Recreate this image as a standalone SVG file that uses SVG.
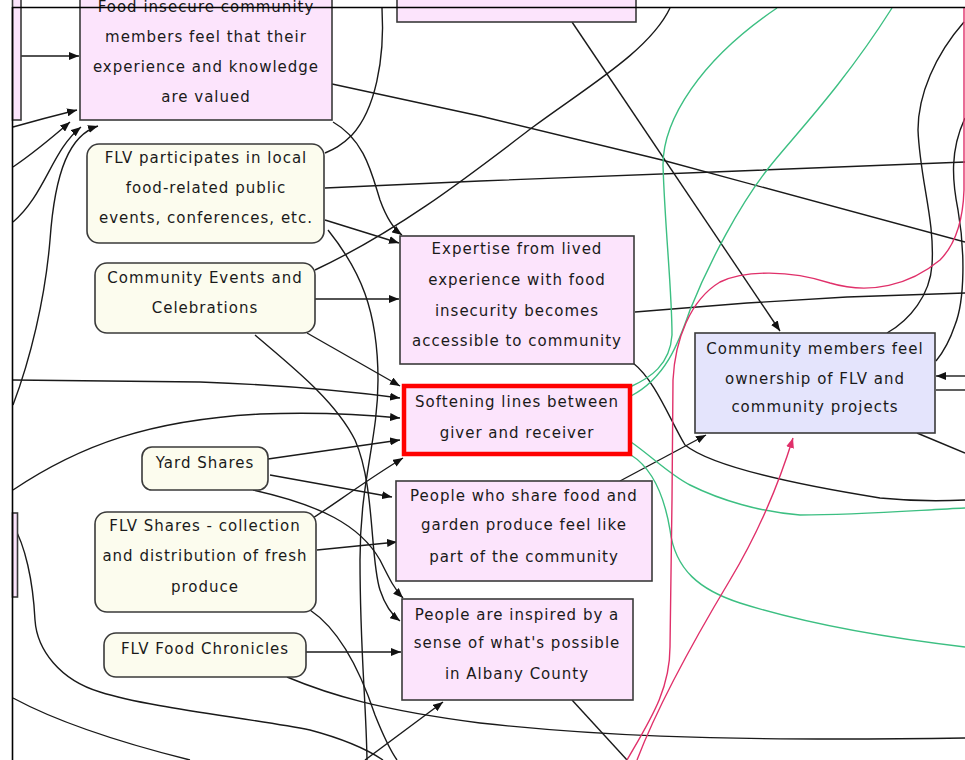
<svg xmlns="http://www.w3.org/2000/svg" width="965" height="760" viewBox="0 0 965 760">
<defs>
<marker id="ah" viewBox="0 0 10 8" refX="10" refY="4" markerWidth="10" markerHeight="8" markerUnits="userSpaceOnUse" orient="auto">
<path d="M0,0 L10,4 L0,8 z" fill="#111"/>
</marker>
<marker id="ahp" viewBox="0 0 10 8" refX="10" refY="4" markerWidth="10" markerHeight="8" markerUnits="userSpaceOnUse" orient="auto">
<path d="M0,0 L10,4 L0,8 z" fill="#e0306a"/>
</marker>
</defs>
<style>
.c{fill:none;stroke:#1a1a1a;stroke-width:1.4}
.a{marker-end:url(#ah)}
.g{fill:none;stroke:#3cbf82;stroke-width:1.4}
.p{fill:none;stroke:#e0306a;stroke-width:1.4}
.pk{fill:#fce4fc;stroke:#3a3a3a;stroke-width:1.6}
.cr{fill:#fcfcee;stroke:#3a3a3a;stroke-width:1.6}
.lv{fill:#e4e4fc;stroke:#3a3a3a;stroke-width:1.6}
.rd{fill:#fce4fc;stroke:#ff0000;stroke-width:4.5}
text{font-family:"DejaVu Sans",Verdana,sans-serif;font-size:15px;letter-spacing:1px;fill:#1a1a1a;text-anchor:middle}
</style>
<rect x="0" y="0" width="965" height="760" fill="#ffffff"/>
<g id="connectors">
<path class="c a" d="M21,56 L79,56"/>
<path class="c a" d="M13,127 Q45,118 77,110"/>
<path class="c a" d="M13,167 C35,152 55,135 70,122"/>
<path class="c a" d="M13,222 C45,195 52,150 81,127"/>
<path class="c a" d="M13,405 C30,360 45,300 50,240 C55,170 70,135 98,126"/>
<path class="c" d="M332,84 L480,116 L662,160 L965,242"/>
<path class="c a" d="M333,122 C365,140 372,175 380,200 C388,222 395,230 402,235"/>
<path class="c" d="M382,8 C385,60 375,110 352,135 C340,147 332,150 325,153"/>
<path class="c" d="M325,188 L480,181 L713,172 L965,162"/>
<path class="c a" d="M325,220 L399,243"/>
<path class="c" d="M328,230 C360,270 378,310 378,380 C378,440 360,480 360,560 C360,650 366,700 367,760"/>
<path class="c" d="M315,270 C400,230 470,175 533,127 C590,85 650,50 670,8"/>
<path class="c a" d="M315,299 L399,299"/>
<path class="c a" d="M307,333 L400,386"/>
<path class="c a" d="M255,335 C290,365 335,400 355,440 C375,485 370,560 380,590 C385,605 392,615 400,621"/>
<path class="c a" d="M13,380 L200,382 C280,385 340,390 400,398"/>
<path class="c a" d="M13,490 C80,445 150,420 260,414 C320,412 360,414 400,418"/>
<path class="c a" d="M268,459 L400,440"/>
<path class="c a" d="M313,518 C340,500 370,478 403,458"/>
<path class="c a" d="M270,475 L392,497"/>
<path class="c a" d="M317,550 L397,542"/>
<path class="c a" d="M253,490 C320,505 360,525 380,560 C390,580 395,590 403,598"/>
<path class="c" d="M310,610 C340,630 360,670 375,715 C383,735 390,750 397,760"/>
<path class="c a" d="M306,652 L401,652"/>
<path class="c" d="M287,677 C330,695 380,710 480,723 C580,734 700,742 965,738"/>
<path class="c" d="M13,525 C25,545 33,580 35,620 C37,650 60,680 100,692 C150,708 250,718 310,730 C340,738 365,748 383,760"/>
<path class="c" d="M13,698 C50,718 110,740 190,760"/>
<path class="c a" d="M365,760 L443,702"/>
<path class="c" d="M572,700 L627,760"/>
<path class="c a" d="M572,22 L780,331"/>
<path class="c" d="M633,363 C655,380 670,420 685,445 C710,465 780,482 880,498 C920,502 945,501 965,500"/>
<path class="c a" d="M620,481 L706,435"/>
<path class="c" d="M635,312 L747,303 L847,297 L965,293"/>
<path class="c" d="M917,433 L965,453"/>
<path class="c a" d="M965,376 L936,376"/>
<path class="c" d="M965,390 L936,390"/>
<path class="c" d="M964,22 C935,55 918,95 918,130 C920,180 935,220 932,265 C930,295 910,320 887,333"/>
<path class="c" d="M965,118 C950,150 952,180 958,210 C965,250 965,300 955,325 C950,340 945,350 936,361"/>
<path class="g" d="M777,8 C700,60 663,120 663,165 C665,230 672,290 672,335 C670,365 650,378 630,387"/>
<path class="g" d="M892,8 C840,90 790,140 767,170 C740,205 710,260 690,310 C678,345 665,378 631,396"/>
<path class="g" d="M631,442 C650,455 670,475 690,485 C720,500 760,512 800,515 C860,515 920,510 965,508"/>
<path class="g" d="M631,455 C655,470 665,500 670,530 C675,570 700,590 740,603 C800,622 880,637 965,647"/>
<path class="p" d="M627,760 C650,720 670,690 670,647 L672,500 L673,380 C675,340 690,300 720,282 C745,270 790,270 830,283 C870,295 910,285 940,260 C955,245 963,220 964,190 L964,8"/>
<path class="p" d="M637,760 C660,700 700,630 730,580 C760,530 780,480 793,438" marker-end="url(#ahp)"/>
</g>
<g id="node-left-top"><rect class="pk" x="12.5" y="-5" width="8.5" height="125"/></g>
<g id="node-left-bottom"><rect class="pk" x="12.5" y="513" width="5" height="84"/></g>
<g id="node-valued">
<rect class="pk" x="80" y="-10" width="252" height="130"/>
<text x="206" y="12">Food insecure community</text>
<text x="206" y="42">members feel that their</text>
<text x="206" y="72">experience and knowledge</text>
<text x="206" y="102">are valued</text>
</g>
<g id="node-top"><rect class="pk" x="397" y="-10" width="239" height="32"/></g>
<g id="node-flv-events">
<rect class="cr" x="87" y="144" width="237" height="99" rx="12"/>
<text x="206" y="163">FLV participates in local</text>
<text x="206" y="193">food-related public</text>
<text x="206" y="223">events, conferences, etc.</text>
</g>
<g id="node-community-events">
<rect class="cr" x="95" y="263" width="220" height="70" rx="12"/>
<text x="205" y="283">Community Events and</text>
<text x="205" y="313">Celebrations</text>
</g>
<g id="node-expertise">
<rect class="pk" x="400" y="236" width="234" height="128"/>
<text x="517" y="254">Expertise from lived</text>
<text x="517" y="285">experience with food</text>
<text x="517" y="316">insecurity becomes</text>
<text x="517" y="346">accessible to community</text>
</g>
<g id="node-softening">
<rect class="rd" x="404" y="386" width="226" height="68"/>
<text x="517" y="407">Softening lines between</text>
<text x="517" y="438">giver and receiver</text>
</g>
<g id="node-share-food">
<rect class="pk" x="396" y="481" width="256" height="100"/>
<text x="524" y="501">People who share food and</text>
<text x="524" y="530">garden produce feel like</text>
<text x="524" y="562">part of the community</text>
</g>
<g id="node-inspired">
<rect class="pk" x="402" y="599" width="231" height="101"/>
<text x="517" y="620">People are inspired by a</text>
<text x="517" y="648">sense of what's possible</text>
<text x="517" y="679">in Albany County</text>
</g>
<g id="node-ownership">
<rect class="lv" x="695" y="333" width="240" height="100"/>
<text x="815" y="354">Community members feel</text>
<text x="815" y="384">ownership of FLV and</text>
<text x="815" y="412">community projects</text>
</g>
<g id="node-yard-shares">
<rect class="cr" x="142" y="447" width="126" height="43" rx="10"/>
<text x="205" y="468">Yard Shares</text>
</g>
<g id="node-flv-shares">
<rect class="cr" x="95" y="512" width="221" height="100" rx="12"/>
<text x="205" y="531">FLV Shares - collection</text>
<text x="205" y="561">and distribution of fresh</text>
<text x="205" y="592">produce</text>
</g>
<g id="node-chronicles">
<rect class="cr" x="104" y="633" width="202" height="44" rx="12"/>
<text x="205" y="654">FLV Food Chronicles</text>
</g>
<g id="frame">
<path d="M12,7.5 L965,7.5 M12.5,7 L12.5,760" fill="none" stroke="#000" stroke-width="1.6"/>
</g>
</svg>
